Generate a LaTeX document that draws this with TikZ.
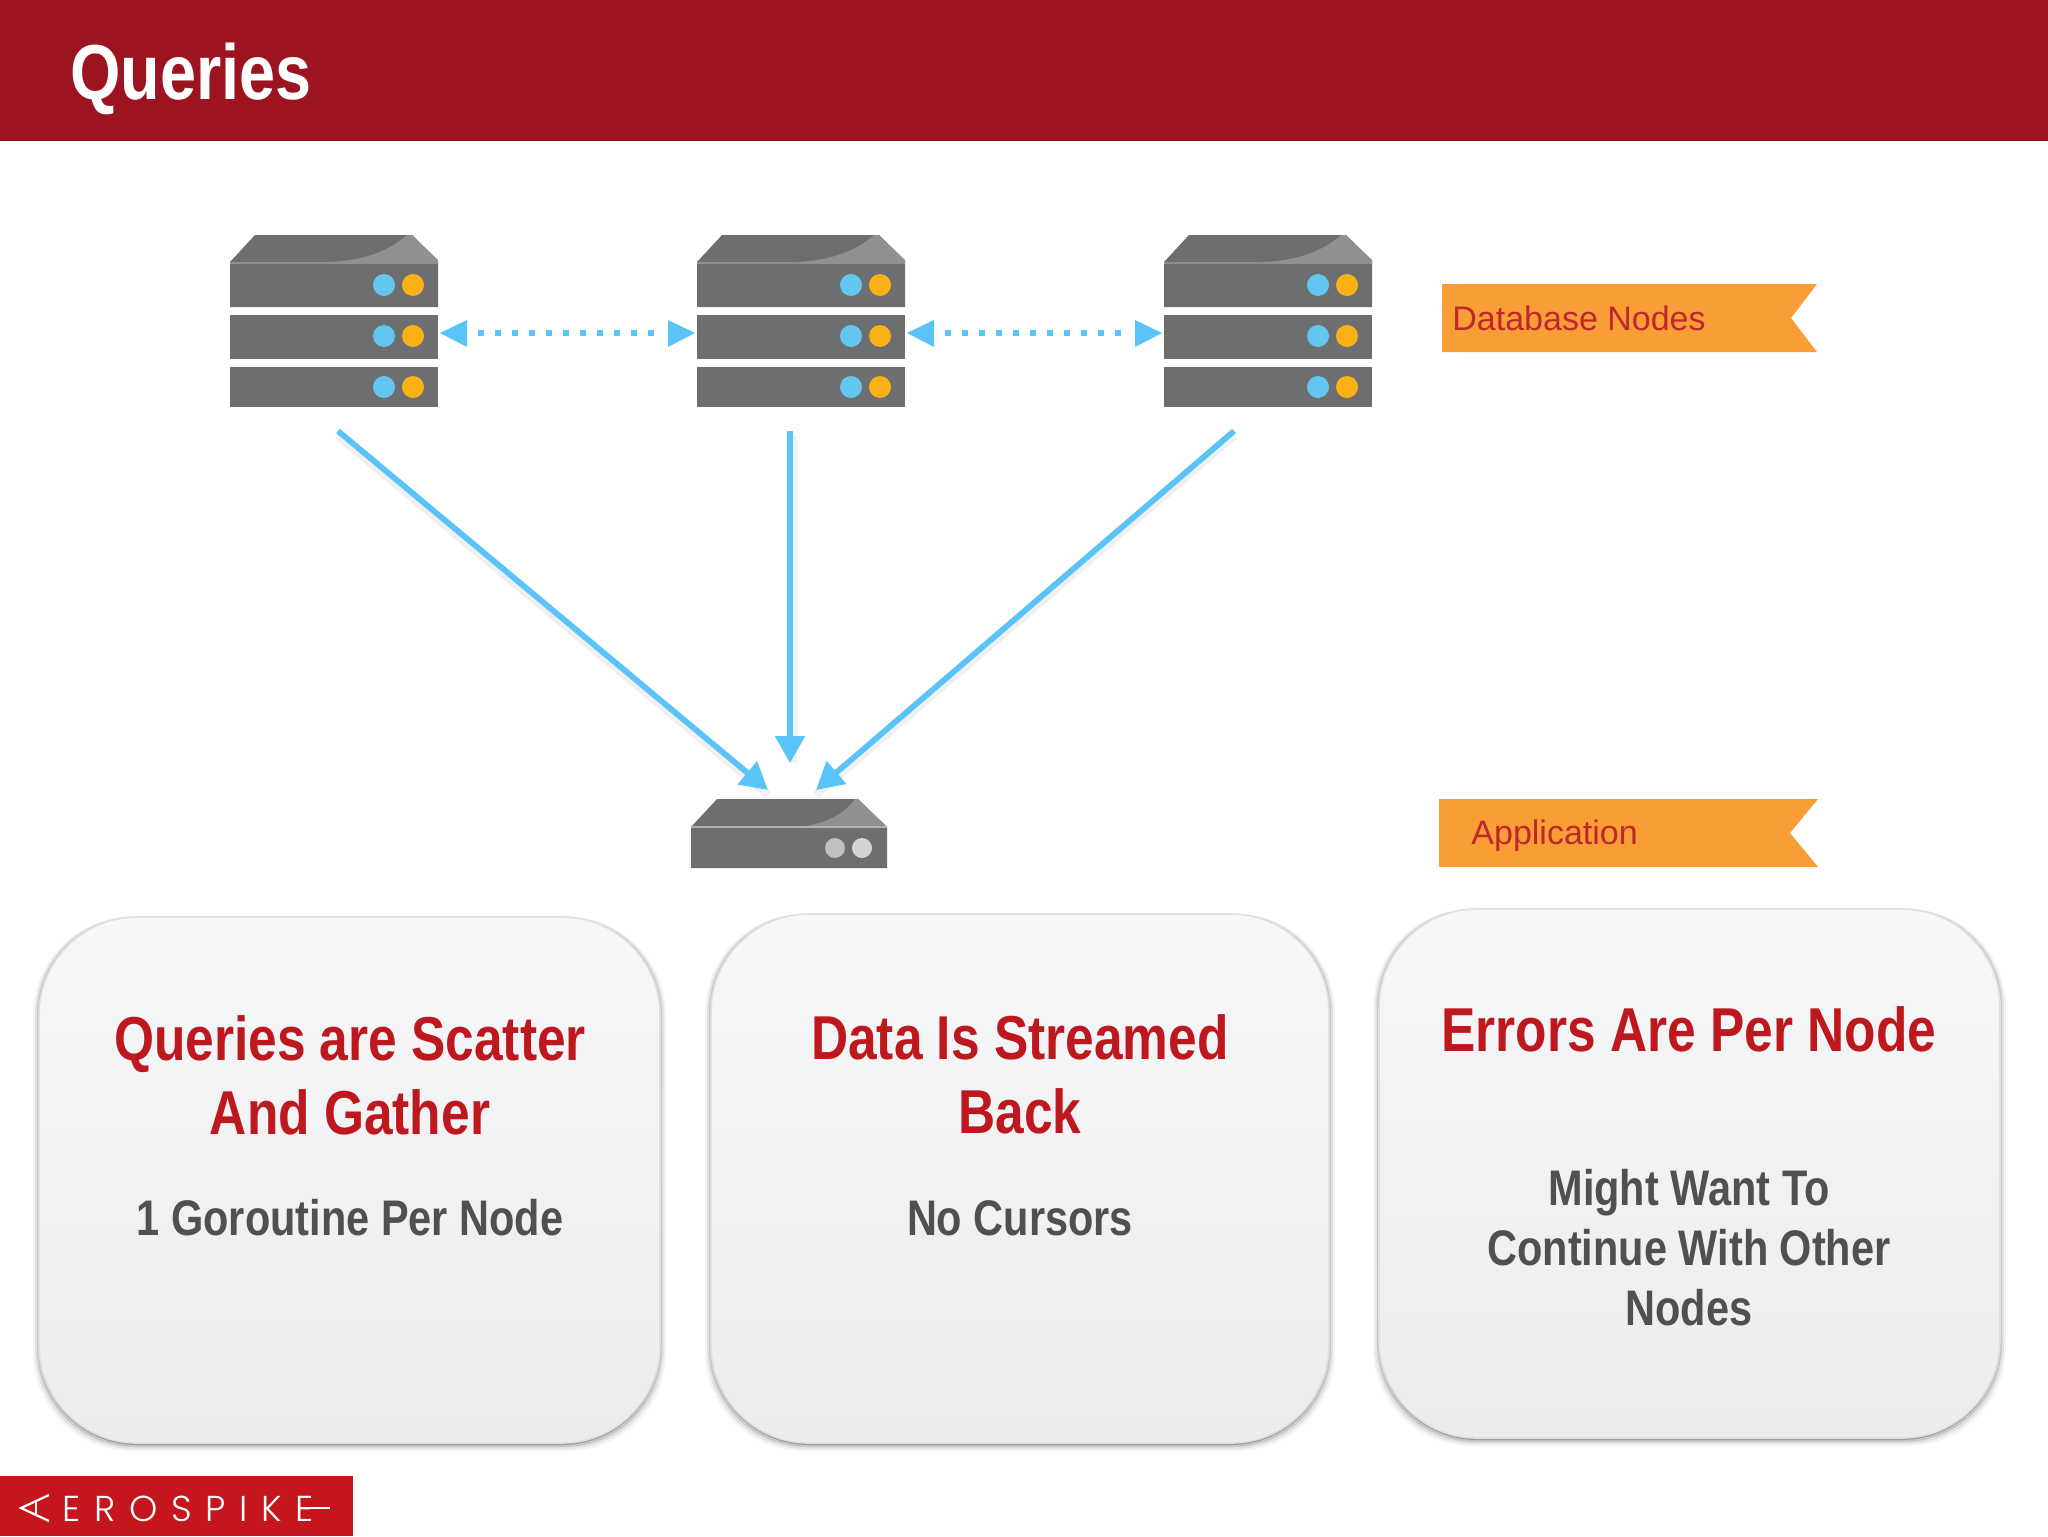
\documentclass[tikz,border=0pt]{standalone}
\usepackage{fontspec}
\setmainfont{Liberation Sans}
\newfontfamily\narrowbold[FakeStretch=0.83]{Liberation Sans Bold}
\newfontfamily\logofont[LetterSpace=38]{Poppins Light}
\usetikzlibrary{arrows.meta,calc}
\definecolor{bannerred}{HTML}{9C1420}
\definecolor{logored}{HTML}{C4161C}
\definecolor{headred}{HTML}{BE181F}
\definecolor{subgrey}{HTML}{4F5052}
\definecolor{srvgrey}{HTML}{6D6E70}
\definecolor{srvlight}{HTML}{8F9092}
\definecolor{arrowblue}{HTML}{5AC4F8}
\definecolor{dotblue}{HTML}{62C6F0}
\definecolor{dotorange}{HTML}{FBB017}
\definecolor{ribbonorange}{HTML}{F99D36}
\definecolor{ribbontext}{HTML}{C0272D}
\definecolor{cardtop}{HTML}{F6F7F9}
\definecolor{cardbot}{HTML}{ECECEE}
\tikzset{
  x=0.5pt,y=-0.5pt,
  srvbody/.style={fill=srvgrey,draw=none},
  ledblue/.style={fill=dotblue,draw=none},
  ledorange/.style={fill=dotorange,draw=none},
  ledgrey/.style={fill=#1,draw=none},
  mainarrow/.style={draw=arrowblue,line width=2.9pt,-{Triangle[length=13.5pt,width=14.5pt]}},
  mainshadow/.style={draw=black,opacity=0.06,line width=4pt},
  dotline/.style={draw=arrowblue,line width=3pt,dash pattern=on 3pt off 5.5pt},
  tiphead/.style={fill=arrowblue,draw=none},
  headtext/.style={anchor=base,text=headred,font=\narrowbold\fontsize{31}{31}\selectfont,inner sep=0pt},
  subtext/.style={anchor=base,text=subgrey,font=\narrowbold\fontsize{25}{25}\selectfont,inner sep=0pt},
  ribbontextstyle/.style={anchor=base west,text=ribbontext,font=\fontsize{17}{17}\selectfont,inner sep=0pt},
  ribbonshape/.style={fill=ribbonorange,draw=none},
  cardedge/.style={rounded corners=49pt,draw=none},
  pics/dbserver/.style={code={
    \fill[srvbody] (0,27) -- (25,0) -- (182,0) -- (208,27) -- (208,72) -- (0,72) -- cycle;
    \fill[srvlight] (97,27) .. controls (135,26) and (160,15) .. (177,0) -- (182,0) -- (208,25) -- (208,28) -- cycle;
    \fill[srvbody] (0,80) rectangle (208,124);
    \fill[srvbody] (0,132) rectangle (208,172);
    \foreach \yy in {50,101,152}{
      \fill[ledblue] (154,\yy) circle[radius=11];
      \fill[ledorange] (183,\yy) circle[radius=11];
    }
    \draw[srvlight,line width=0.6pt] (0,28) -- (208,28);
  }},
}
\begin{document}
\begin{tikzpicture}
\useasboundingbox (0,0) rectangle (2048,1536);
\fill[white] (0,0) rectangle (2048,1536);

% banner
\fill[bannerred] (0,0) rectangle (2048,141);
\node[anchor=base west,text=white,font=\narrowbold\fontsize{39}{39}\selectfont,inner sep=0pt] (title) at (70,99) {Queries};

% servers
\pic at (230,235) {dbserver};
\pic at (697,235) {dbserver};
\pic at (1164,235) {dbserver};

% app server
\fill[srvbody] (691,827) -- (717,799) -- (858,799) -- (887,827) -- (887,868) -- (691,868) -- cycle;
\fill[srvlight] (795,827) .. controls (820,826) and (845,815) .. (855,799) -- (858,799) -- (887,827) -- cycle;
\draw[draw=srvlight!70!white,line width=0.8pt] (691,827) -- (887,827);
\fill[ledgrey=black!25] (835,848) circle[radius=10];
\fill[ledgrey=black!17] (862,848) circle[radius=10];

% anchors of connectors
\coordinate (s1r) at (440,333);
\coordinate (s2l) at (695,333);
\coordinate (s2r) at (907,333);
\coordinate (s3l) at (1162,333);
\coordinate (d1) at (338,431);
\coordinate (d2) at (790,431);
\coordinate (d3) at (1234,431);
\coordinate (aL) at (768,790);
\coordinate (aM) at (790,763);
\coordinate (aR) at (816,790);

% dotted double arrows
\foreach \a/\b in {s1r/s2l,s2r/s3l}{
  \draw[dotline] ($(\a)+(38,0)$) -- ($(\b)+(-36,0)$);
  \fill[tiphead] (\a) -- ++(27,-13) -- ++(0,27) -- cycle;
  \fill[tiphead] (\b) -- ++(-27,-13) -- ++(0,27) -- cycle;
}

% main arrows
\draw[mainshadow] ($(d1)+(0,5)$) -- ($(aL)+(0,5)$);
\draw[mainshadow] ($(d2)+(3,5)$) -- ($(aM)+(3,0)$);
\draw[mainshadow] ($(d3)+(0,5)$) -- ($(aR)+(0,5)$);
\draw[mainarrow] (d1) -- (aL);
\draw[mainarrow] (d2) -- (aM);
\draw[mainarrow] (d3) -- (aR);

% ribbons
\fill[ribbonshape] (1442,284) -- (1817,284) -- (1791,318) -- (1817,352) -- (1442,352) -- cycle;
\node[ribbontextstyle] (dbl) at (1452,330) {Database Nodes};
\fill[ribbonshape] (1439,799) -- (1818,799) -- (1790,833) -- (1818,867) -- (1439,867) -- cycle;
\node[ribbontextstyle] (apl) at (1471,844) {Application};

% cards
\foreach \xa/\ya/\xb/\yb in {39/917/660/1443,711/914/1329/1443,1379/909/2000/1438}{
  \foreach \i/\op in {8/0.04,6/0.07,4/0.12,2/0.22}{
    \fill[cardedge,black,opacity=\op] (\xa-\i+2,\ya) rectangle (\xb+\i-2,\yb+\i);
  }
  \shade[cardedge,top color=cardtop,bottom color=cardbot,draw=black!12,line width=0.8pt]
    (\xa,\ya) rectangle (\xb,\yb);
}

% card texts
\node[headtext] (c1a) at (350,1060) {Queries are Scatter};
\node[headtext] (c1b) at (350,1134) {And Gather};
\node[subtext] (c1c) at (350,1235) {1 Goroutine Per Node};
\node[headtext] (c2a) at (1020,1059) {Data Is Streamed};
\node[headtext] (c2b) at (1020,1133) {Back};
\node[subtext] (c2c) at (1020,1235) {No Cursors};
\node[headtext] (c3a) at (1689,1051) {Errors Are Per Node};
\node[subtext] (c3b) at (1689,1205) {Might Want To};
\node[subtext] (c3c) at (1689,1265) {Continue With Other};
\node[subtext] (c3d) at (1689,1325) {Nodes};

% logo
\fill[logored] (0,1476) rectangle (353,1536);
\draw[white,line width=1.1pt,line join=miter] (49,1495) -- (21,1508) -- (49,1521);
\draw[white,line width=1.1pt] (36,1501) -- (36,1515);
\node[anchor=base west,text=white,inner sep=0pt,font=\logofont\fontsize{18}{18}\selectfont] (logo) at (62,1521) {EROSPIKE};
\draw[white,line width=1.1pt] (300,1508) -- (330,1508);
\end{tikzpicture}
\end{document}
